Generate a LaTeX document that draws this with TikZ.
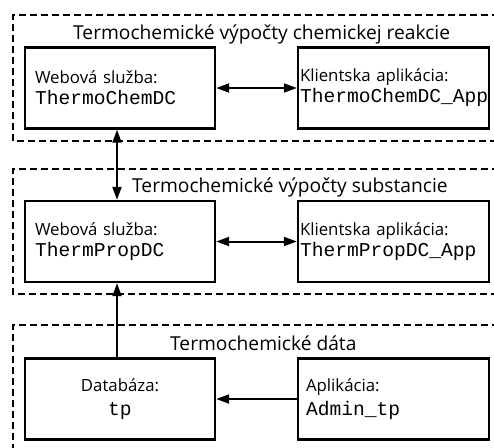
\documentclass[tikz,border=0pt]{standalone}
\usepackage{fontspec}
\setmainfont{Open Sans}
\setmonofont{Liberation Mono}
\usetikzlibrary{arrows.meta, positioning, calc}
\definecolor{InkBlack}{HTML}{000000}
\definecolor{PaperWhite}{HTML}{FFFFFF}
\newcommand{\kod}[1]{{\fontsize{19.6pt}{21pt}\selectfont\ttfamily #1}}

\begin{document}
\begin{tikzpicture}[x=1pt, y=-1pt,
  blok/.style={draw=InkBlack, line width=2.4pt, minimum width=190pt, minimum height=81pt,
    inner ysep=0pt, font=\fontsize{16.8pt}{21pt}\selectfont},
  skupina/.style={draw=InkBlack, line width=1.8pt, dash pattern=on 7pt off 4pt},
  nadpis/.style={anchor=base west, inner sep=0pt, font=\fontsize{19.2pt}{22pt}\selectfont},
  spoj/.style={draw=InkBlack, line width=2pt, >={Triangle[length=13pt, width=9pt]}}]
  \fill[PaperWhite] (0,0) rectangle (494,447);
  \useasboundingbox (0,0) rectangle (494,447);
  % dashed groups, open to the right
  \foreach \y/\h in {15/141, 169/294, 325/470}{
    \draw[skupina] (510,\y) -| (13,\h) -- (510,\h);
  }
  \node[nadpis] (tReak) at (73,39.5) {Termochemické výpočty chemickej reakcie};
  \node[nadpis] (tSubst) at (132,192) {Termochemické výpočty substancie};
  \node[nadpis] (tData) at (170,350) {Termochemické dáta};
  % services and client apps
  \node[blok, align=left, text width=170pt, inner xsep=10pt] (wsReak) at (120,88)
    {Webová služba:\\\kod{ThermoChemDC}};
  \node[blok, align=left, text width=187pt, inner xsep=2pt, minimum width=191pt] (appReak) at (393.5,88)
    {Klientska aplikácia:\\\kod{ThermoChemDC\_App}};
  \node[blok, align=left, text width=170pt, inner xsep=10pt] (wsSubst) at (120,241.5)
    {Webová služba:\\\kod{ThermPropDC}};
  \node[blok, align=left, text width=187pt, inner xsep=2pt, minimum width=191pt] (appSubst) at (393.5,241.5)
    {Klientska aplikácia:\\\kod{ThermPropDC\_App}};
  % data layer, looser lines
  \node[blok, align=center, text width=170pt, inner xsep=10pt,
    font=\fontsize{16.8pt}{24pt}\selectfont] (dbTp) at (120,399)
    {Databáza:\\\kod{tp}};
  \node[blok, align=left, text width=175pt, inner xsep=8pt, minimum width=191pt,
    font=\fontsize{16.8pt}{24pt}\selectfont] (adminTp) at (393.5,399)
    {Aplikácia:\\\kod{Admin\_tp}};
  % connectors
  \draw[spoj, <->] (wsReak.east) -- (appReak.west);
  \draw[spoj, <->] (wsSubst.east) -- (appSubst.west);
  \draw[spoj, <->] ([xshift=-3pt]wsReak.south) -- ([xshift=-3pt]wsSubst.north);
  \draw[spoj, ->] ([xshift=-3pt]dbTp.north) -- ([xshift=-3pt]wsSubst.south);
  \draw[spoj, ->] (adminTp.west) -- (dbTp.east);
\end{tikzpicture}
\end{document}
